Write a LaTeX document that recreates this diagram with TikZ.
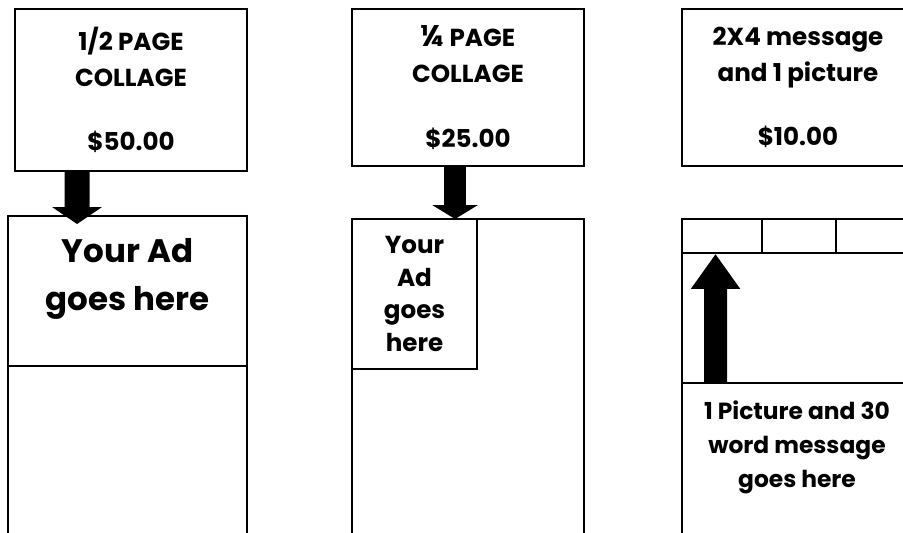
\documentclass[tikz,border=0pt]{standalone}
\usepackage{fontspec}
\setmainfont{Poppins}
\usepackage{tikz}
\usetikzlibrary{arrows.meta,positioning,calc}

\begin{document}
\begin{tikzpicture}[
    x=0.02cm, y=-0.02cm,
    pricebox/.style={rectangle, draw, line width=1.1pt, minimum width=4.64cm, minimum height=3.14cm, align=center, font=\fontsize{14}{20.5}\selectfont\bfseries},
    pagebox/.style={rectangle, draw, line width=1.1pt, inner sep=0pt},
    adtext/.style={align=center, font=\bfseries},
    bigarrow/.style={line width=0.5cm, -{Triangle[width=0.98cm, length=0.34cm]}}
]
    \useasboundingbox (0,0) rectangle (903,533);
    \clip (0,0) rectangle (903,533);

    % Prices
    \node[pricebox, minimum height=3.24cm] (price1) at (131, 90) {1/2 PAGE\\COLLAGE\\[16pt]\$50.00};
    \node[pricebox] (price2) at (468, 87.5) {{\fontsize{17}{20.5}\selectfont ¼} PAGE\\COLLAGE\\[16pt]\$25.00};
    \node[pricebox] (price3) at (798, 87.5) {2X4 message\\and 1 picture\\[16pt]\$10.00};

    % Half page
    \node[pagebox, minimum width=4.78cm, minimum height=6.88cm] (page1) at (127.5, 388) {};
    \node[pagebox, minimum width=4.78cm, minimum height=3cm] (ad1) at (127.5, 291) {};
    \node[adtext, font=\fontsize{18.5}{27}\selectfont\bfseries] (ad1text) at (127.5, 279) {Your Ad\\goes here};

    % Quarter page
    \node[pagebox, minimum width=4.64cm, minimum height=6.82cm] (page2) at (468, 389.5) {};
    \node[pagebox, adtext, minimum width=2.5cm, minimum height=3cm, font=\fontsize{14}{18.7}\selectfont\bfseries] (ad2) at (414.5, 294) {Your\\Ad\\goes\\here};

    % Message and picture
    \node[pagebox, minimum width=4.64cm, minimum height=6.82cm] (page3) at (798, 389.5) {};
    \node[pagebox, minimum width=4.64cm, minimum height=3.28cm] (pic3) at (798, 301) {};
    \node[pagebox, minimum width=1.6cm, minimum height=0.68cm] (cellA) at (722, 236) {};
    \node[pagebox, minimum width=1.48cm, minimum height=0.68cm] (cellB) at (799, 236) {};
    \node[pagebox, minimum width=1.56cm, minimum height=0.68cm] (cellC) at (875, 236) {};
    \node[adtext, font=\fontsize{13.3}{19.3}\selectfont\bfseries] (msg3) at (797, 447) {1 Picture and 30\\word message\\goes here};

    % Arrows
    \draw[bigarrow] ($(price1.south west)+(63,0)$) -- ($(page1.north west)+(70,9)$);
    \draw[bigarrow, line width=0.44cm, -{Triangle[width=0.9cm, length=0.28cm]}] ($(price2.south west)+(104,0)$) -- ($(page2.north west)+(104,1)$);
    \draw[bigarrow, line width=0.46cm, -{Triangle[width=0.94cm, length=0.7cm]}] ($(pic3.south west)+(34.5,0)$) -- ($(cellA.south west)+(34.5,0)$);
\end{tikzpicture}
\end{document}
